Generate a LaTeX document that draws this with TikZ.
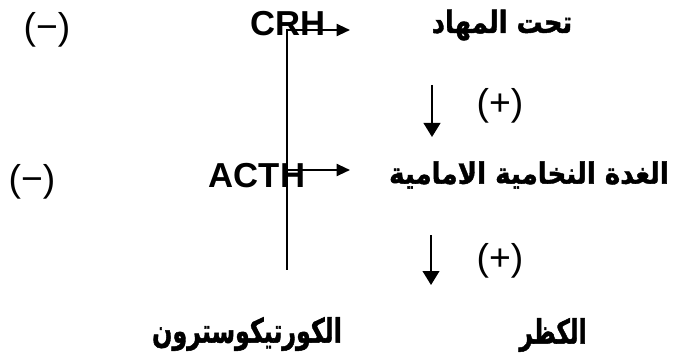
\documentclass[tikz,border=0pt]{standalone}
\usepackage{fontspec}
\setmainfont{Liberation Sans}
\newfontfamily\arabicfont[Script=Arabic, BoldFont={DejaVu Sans Bold}, BoldFeatures={FakeBold=1.5}]{DejaVu Sans}
\TeXXeTstate=1
\usetikzlibrary{arrows.meta}
\begin{document}
\begin{tikzpicture}[x=0.75pt,y=-0.75pt,
  lat/.style={font=\fontsize{26}{30}\selectfont\bfseries, inner sep=0pt},
  sign/.style={font=\fontsize{28}{30}\selectfont, inner sep=0pt},
  ar/.style={font=\fontsize{22}{26}\selectfont\arabicfont\bfseries, inner sep=0pt},
  conn/.style={line width=1.5pt},
  harr/.style={conn, -{Triangle[length=10pt,width=9pt]}},
  varr/.style={conn, -{Triangle[length=10.5pt,width=12.5pt]}}]
\useasboundingbox (0,0) rectangle (673,356);
% row 1
\node[sign] (m1) at (47,30) {(−)};
\node[lat] (crh) at (288,24) {CRH};
\node[ar] (hyp) at (502,25) {\scalebox{0.88}[1.05]{\beginR تحت المهاد\endR}};
% row 2
\node[sign] (m2) at (32,182) {(−)};
\node[lat] (acth) at (257,176) {ACTH};
\node[ar] (pit) at (529,175) {\scalebox{0.89}[1.0]{\beginR الغدة النخامية الامامية\endR}};
% row 3
\node[ar] (cort) at (247,334) {\scalebox{0.81}[1.15]{\beginR الكورتيكوسترون\endR}};
\node[ar] (adr) at (553,335) {\scalebox{0.79}[1.15]{\beginR الكظر\endR}};
% plus signs
\node[sign] (p1) at (500,106) {(+)};
\node[sign] (p2) at (500,261) {(+)};
% feedback line
\coordinate (t1) at (287,29);
\coordinate (t2) at (287,170);
\coordinate (bot) at (287,270);
\coordinate (h1) at (350,30);
\coordinate (h2) at (350,170);
\draw[conn] (t1) -- (bot);
\draw[harr] (t1 |- h1) -- (h1);
\draw[harr] (t2) -- (h2);
% down arrows
\coordinate (d1s) at (432,85);
\coordinate (d1e) at (432,137);
\coordinate (d2s) at (431,235);
\coordinate (d2e) at (431,285);
\draw[varr] (d1s) -- (d1e);
\draw[varr] (d2s) -- (d2e);
\end{tikzpicture}
\end{document}
